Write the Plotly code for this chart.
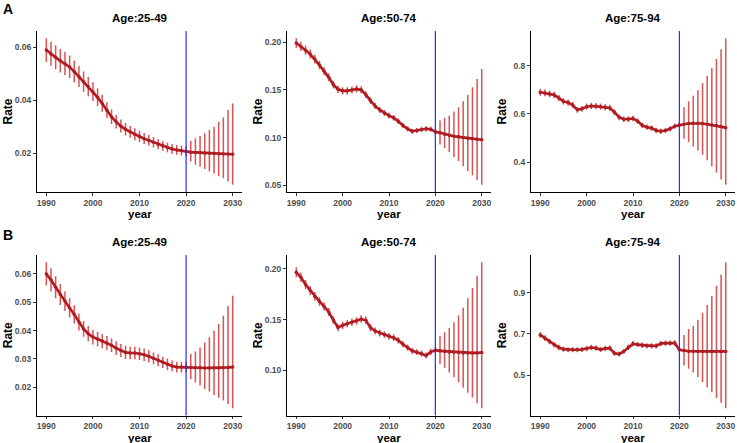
import plotly.graph_objects as go

years = list(range(1990, 2031))

# ---------------- Row A ----------------
a1_mean = [0.0590, 0.0575, 0.0562, 0.0549, 0.0538, 0.0526, 0.0508, 0.0489, 0.0470, 0.0451, 0.0432,
           0.0411, 0.0388, 0.0362, 0.0337, 0.0318, 0.0302, 0.0290, 0.0280, 0.0271, 0.0263,
           0.0255, 0.0248, 0.0241, 0.0234, 0.0227, 0.0221, 0.0216, 0.0212, 0.0209, 0.0206,
           0.0204, 0.0203, 0.0202, 0.0201, 0.0200, 0.0199, 0.0198, 0.0197, 0.0197, 0.0196]
a1_hi = [0.0634, 0.0621, 0.0608, 0.0594, 0.0582, 0.0569, 0.0550, 0.0529, 0.0509, 0.0488, 0.0468,
         0.0445, 0.0420, 0.0392, 0.0365, 0.0344, 0.0327, 0.0314, 0.0303, 0.0294, 0.0285,
         0.0276, 0.0269, 0.0261, 0.0254, 0.0246, 0.0240, 0.0235, 0.0231, 0.0228, 0.0225,
         0.0246, 0.0256, 0.0265, 0.0275, 0.0288, 0.0300, 0.0319, 0.0335, 0.0363, 0.0388]
a1_lo = [0.0545, 0.0530, 0.0517, 0.0505, 0.0495, 0.0484, 0.0467, 0.0450, 0.0432, 0.0415, 0.0397,
         0.0378, 0.0357, 0.0333, 0.0310, 0.0293, 0.0278, 0.0267, 0.0258, 0.0249, 0.0242,
         0.0235, 0.0228, 0.0222, 0.0215, 0.0209, 0.0203, 0.0198, 0.0194, 0.0191, 0.0188,
         0.0169, 0.0156, 0.0150, 0.0140, 0.0131, 0.0123, 0.0113, 0.0105, 0.0094, 0.0081]

a2_mean = [0.1990, 0.1955, 0.1916, 0.1875, 0.1823, 0.1760, 0.1694, 0.1631, 0.1555, 0.1506, 0.1490,
           0.1490, 0.1499, 0.1510, 0.1500, 0.1450, 0.1388, 0.1332, 0.1290, 0.1259, 0.1230,
           0.1207, 0.1172, 0.1127, 0.1092, 0.1067, 0.1074, 0.1085, 0.1092, 0.1088, 0.1060,
           0.1050, 0.1036, 0.1026, 0.1015, 0.1008, 0.1001, 0.0994, 0.0989, 0.0984, 0.0978]
a2_hi = [0.2040, 0.2004, 0.1964, 0.1922, 0.1869, 0.1804, 0.1736, 0.1672, 0.1594, 0.1544, 0.1527,
         0.1527, 0.1536, 0.1548, 0.1538, 0.1486, 0.1423, 0.1365, 0.1322, 0.1290, 0.1261,
         0.1237, 0.1201, 0.1155, 0.1119, 0.1094, 0.1101, 0.1112, 0.1119, 0.1115, 0.1087,
         0.1179, 0.1207, 0.1231, 0.1273, 0.1318, 0.1381, 0.1450, 0.1527, 0.1614, 0.1718]
a2_lo = [0.1940, 0.1906, 0.1868, 0.1828, 0.1777, 0.1716, 0.1652, 0.1590, 0.1516, 0.1468, 0.1453,
         0.1453, 0.1462, 0.1472, 0.1462, 0.1414, 0.1353, 0.1299, 0.1258, 0.1228, 0.1199,
         0.1177, 0.1143, 0.1099, 0.1065, 0.1040, 0.1047, 0.1058, 0.1065, 0.1061, 0.1033,
         0.0928, 0.0890, 0.0848, 0.0796, 0.0754, 0.0699, 0.0650, 0.0605, 0.0553, 0.0507]

a3_mean = [0.690, 0.687, 0.683, 0.679, 0.666, 0.652, 0.647, 0.637, 0.617, 0.621, 0.630,
           0.633, 0.632, 0.630, 0.628, 0.625, 0.607, 0.586, 0.578, 0.578, 0.581,
           0.570, 0.552, 0.545, 0.541, 0.531, 0.528, 0.531, 0.538, 0.549, 0.554,
           0.557, 0.560, 0.561, 0.561, 0.560, 0.557, 0.554, 0.552, 0.548, 0.543]
a3_hi = [0.704, 0.701, 0.697, 0.693, 0.679, 0.665, 0.660, 0.650, 0.629, 0.633, 0.643,
         0.646, 0.645, 0.643, 0.641, 0.638, 0.619, 0.598, 0.590, 0.590, 0.593,
         0.581, 0.563, 0.556, 0.552, 0.542, 0.539, 0.542, 0.549, 0.560, 0.565,
         0.628, 0.652, 0.676, 0.699, 0.728, 0.759, 0.790, 0.828, 0.869, 0.914]
a3_lo = [0.676, 0.673, 0.669, 0.665, 0.653, 0.639, 0.634, 0.624, 0.605, 0.609, 0.617,
         0.620, 0.619, 0.617, 0.615, 0.612, 0.595, 0.574, 0.566, 0.566, 0.569,
         0.559, 0.541, 0.534, 0.530, 0.520, 0.517, 0.520, 0.527, 0.538, 0.543,
         0.497, 0.483, 0.465, 0.448, 0.430, 0.407, 0.383, 0.356, 0.328, 0.306]

# ---------------- Row B ----------------
b1_mean = [0.0600, 0.0579, 0.0553, 0.0527, 0.0504, 0.0480, 0.0457, 0.0430, 0.0406, 0.0389, 0.0377,
           0.0370, 0.0363, 0.0356, 0.0348, 0.0338, 0.0330, 0.0323, 0.0321, 0.0321, 0.0318,
           0.0315, 0.0309, 0.0302, 0.0295, 0.0288, 0.0281, 0.0275, 0.0271, 0.0271, 0.0271,
           0.0270, 0.0269, 0.0269, 0.0268, 0.0268, 0.0268, 0.0268, 0.0269, 0.0270, 0.0271]
b1_hi = [0.0641, 0.0620, 0.0592, 0.0564, 0.0539, 0.0514, 0.0489, 0.0460, 0.0434, 0.0416, 0.0403,
         0.0396, 0.0388, 0.0381, 0.0372, 0.0362, 0.0353, 0.0346, 0.0343, 0.0343, 0.0340,
         0.0337, 0.0331, 0.0323, 0.0316, 0.0308, 0.0301, 0.0294, 0.0290, 0.0290, 0.0290,
         0.0317, 0.0326, 0.0340, 0.0358, 0.0376, 0.0399, 0.0423, 0.0452, 0.0487, 0.0523]
b1_lo = [0.0559, 0.0538, 0.0514, 0.0490, 0.0469, 0.0446, 0.0425, 0.0400, 0.0378, 0.0362, 0.0351,
         0.0344, 0.0338, 0.0331, 0.0324, 0.0314, 0.0307, 0.0300, 0.0299, 0.0299, 0.0296,
         0.0293, 0.0287, 0.0281, 0.0274, 0.0268, 0.0261, 0.0256, 0.0252, 0.0252, 0.0252,
         0.0229, 0.0217, 0.0206, 0.0194, 0.0185, 0.0173, 0.0163, 0.0153, 0.0141, 0.0126]

b2_mean = [0.1967, 0.1918, 0.1846, 0.1787, 0.1728, 0.1679, 0.1630, 0.1574, 0.1495, 0.1420, 0.1443,
           0.1459, 0.1472, 0.1485, 0.1505, 0.1492, 0.1420, 0.1387, 0.1367, 0.1351, 0.1334,
           0.1321, 0.1295, 0.1256, 0.1223, 0.1190, 0.1177, 0.1164, 0.1144, 0.1180, 0.1197,
           0.1190, 0.1187, 0.1180, 0.1177, 0.1174, 0.1170, 0.1170, 0.1170, 0.1170, 0.1174]
b2_hi = [0.2016, 0.1966, 0.1892, 0.1832, 0.1771, 0.1721, 0.1671, 0.1613, 0.1532, 0.1456, 0.1479,
         0.1495, 0.1509, 0.1522, 0.1543, 0.1529, 0.1456, 0.1422, 0.1401, 0.1385, 0.1367,
         0.1354, 0.1327, 0.1287, 0.1254, 0.1220, 0.1206, 0.1193, 0.1173, 0.1210, 0.1227,
         0.1334, 0.1374, 0.1416, 0.1472, 0.1541, 0.1616, 0.1711, 0.1813, 0.1934, 0.2066]
b2_lo = [0.1918, 0.1870, 0.1800, 0.1742, 0.1685, 0.1637, 0.1589, 0.1535, 0.1458, 0.1384, 0.1407,
         0.1423, 0.1435, 0.1448, 0.1467, 0.1455, 0.1384, 0.1352, 0.1333, 0.1317, 0.1301,
         0.1288, 0.1263, 0.1225, 0.1192, 0.1160, 0.1148, 0.1135, 0.1115, 0.1150, 0.1167,
         0.1059, 0.1023, 0.0977, 0.0928, 0.0879, 0.0826, 0.0777, 0.0728, 0.0672, 0.0623]

b3_mean = [0.695, 0.679, 0.663, 0.647, 0.634, 0.626, 0.623, 0.623, 0.623, 0.624, 0.629,
           0.634, 0.631, 0.624, 0.629, 0.631, 0.606, 0.602, 0.615, 0.635, 0.652,
           0.648, 0.645, 0.642, 0.642, 0.642, 0.653, 0.655, 0.655, 0.656, 0.623,
           0.619, 0.616, 0.616, 0.615, 0.615, 0.615, 0.615, 0.615, 0.615, 0.615]
b3_hi = [0.709, 0.693, 0.676, 0.660, 0.647, 0.639, 0.635, 0.635, 0.635, 0.636, 0.642,
         0.647, 0.644, 0.636, 0.642, 0.644, 0.618, 0.614, 0.627, 0.648, 0.665,
         0.661, 0.658, 0.655, 0.655, 0.655, 0.666, 0.668, 0.668, 0.669, 0.635,
         0.695, 0.724, 0.739, 0.768, 0.803, 0.840, 0.884, 0.934, 0.989, 1.048]
b3_lo = [0.681, 0.665, 0.650, 0.634, 0.621, 0.613, 0.611, 0.611, 0.611, 0.612, 0.616,
         0.621, 0.618, 0.612, 0.616, 0.618, 0.594, 0.590, 0.603, 0.622, 0.639,
         0.635, 0.632, 0.629, 0.629, 0.629, 0.640, 0.642, 0.642, 0.643, 0.611,
         0.547, 0.531, 0.513, 0.489, 0.466, 0.440, 0.416, 0.389, 0.365, 0.339]

panel_titles = ["Age:25-49", "Age:50-74", "Age:75-94", "Age:25-49", "Age:50-74", "Age:75-94"]
row_labels = ["A", "B"]
x_ticks = [1990, 2000, 2010, 2020, 2030]
y_ticks = [[0.02, 0.04, 0.06], [0.05, 0.10, 0.15, 0.20], [0.4, 0.6, 0.8],
           [0.01, 0.02, 0.03, 0.04, 0.05, 0.06], [0.10, 0.15, 0.20], [0.5, 0.7, 0.9]]
y_formats = [".2f", ".2f", ".1f", ".2f", ".2f", ".1f"]
forecast_start = 2020

panels = [(a1_mean, a1_lo, a1_hi), (a2_mean, a2_lo, a2_hi), (a3_mean, a3_lo, a3_hi),
          (b1_mean, b1_lo, b1_hi), (b2_mean, b2_lo, b2_hi), (b3_mean, b3_lo, b3_hi)]

W, H = 737, 443
col_dom = [(37 / W, 242 / W), (287 / W, 491 / W), (531 / W, 735 / W)]
row_dom = [(1 - 192 / H, 1 - 31 / H), (1 - 415.5 / H, 1 - 255 / H)]

LINE = "#B01C22"
BAR = "rgba(205,35,35,0.78)"
FONT = "Liberation Sans"

fig = go.Figure()
layout = dict(width=W, height=H, autosize=False, margin=dict(l=0, r=0, t=0, b=0),
              plot_bgcolor="white", paper_bgcolor="white", showlegend=False,
              font=dict(family=FONT))
annotations = []
shapes = []

for i, (m, lo, hi) in enumerate(panels):
    r, c = divmod(i, 3)
    k = "" if i == 0 else str(i + 1)
    xa, ya = "x" + k, "y" + k
    up = [h - v for h, v in zip(hi, m)]
    dn = [v - l for v, l in zip(m, lo)]
    fig.add_trace(go.Scatter(x=years, y=m, xaxis=xa, yaxis=ya, mode="markers",
                             marker=dict(size=1, color="rgba(0,0,0,0)"),
                             error_y=dict(type="data", symmetric=False, array=up, arrayminus=dn,
                                          color=BAR, thickness=1.5, width=0),
                             hoverinfo="skip"))
    fig.add_trace(go.Scatter(x=years, y=m, xaxis=xa, yaxis=ya, mode="lines+markers",
                             line=dict(color=LINE, width=2.6),
                             marker=dict(size=3.5, color=LINE)))
    lo_all, hi_all = min(lo), max(hi)
    pad = (hi_all - lo_all) * 0.05
    axfont = dict(family=FONT, size=8.5, color="#4d4d4d", weight="bold")
    layout["xaxis" + k] = dict(domain=col_dom[c], anchor=ya, range=[1988, 2032],
                               tickvals=x_ticks, ticks="outside", ticklen=2.5, tickwidth=1,
                               tickcolor="#333333", showline=True, linecolor="black", linewidth=1,
                               showgrid=False, zeroline=False, tickfont=axfont)
    layout["yaxis" + k] = dict(domain=row_dom[r], anchor=xa, range=[lo_all - pad, hi_all + pad],
                               tickvals=y_ticks[i], tickformat=y_formats[i],
                               ticks="outside", ticklen=3, tickwidth=1, tickcolor="#333333",
                               showline=True, linecolor="black", linewidth=1,
                               showgrid=False, zeroline=False, tickfont=axfont)
    shapes.append(dict(type="line", xref=xa, yref=ya + " domain", x0=forecast_start, x1=forecast_start,
                       y0=0, y1=1, line=dict(color="#2a2aff", width=1.2), layer="above"))
    cx = (col_dom[c][0] + col_dom[c][1]) / 2
    top = row_dom[r][1]
    bot = row_dom[r][0]
    annotations.append(dict(text=panel_titles[i], xref="paper", yref="paper", x=cx,
                            y=top + 12.5 / H, xanchor="center", yanchor="middle", showarrow=False,
                            font=dict(family=FONT, size=11.5, color="black", weight="bold")))
    annotations.append(dict(text="year", xref="paper", yref="paper", x=cx,
                            y=bot - 22 / H, xanchor="center", yanchor="middle", showarrow=False,
                            font=dict(family=FONT, size=11.5, color="black", weight="bold")))
    annotations.append(dict(text="Rate", xref="paper", yref="paper", x=col_dom[c][0] - 29 / W,
                            y=(top + bot) / 2, xanchor="center", yanchor="middle", showarrow=False,
                            textangle=-90,
                            font=dict(family=FONT, size=12, color="black", weight="bold")))

annotations.append(dict(text=row_labels[0], xref="paper", yref="paper", x=7.5 / W, y=1 - 8.5 / H,
                        xanchor="center", yanchor="middle", showarrow=False,
                        font=dict(family=FONT, size=14, color="black", weight="bold")))
annotations.append(dict(text=row_labels[1], xref="paper", yref="paper", x=7.5 / W, y=1 - 234.5 / H,
                        xanchor="center", yanchor="middle", showarrow=False,
                        font=dict(family=FONT, size=14, color="black", weight="bold")))

layout["annotations"] = annotations
layout["shapes"] = shapes
fig.update_layout(**layout)
fig.write_html("out.html", config={"displayModeBar": False},
               post_script="document.body.style.margin='0';document.body.style.overflow='hidden';")
